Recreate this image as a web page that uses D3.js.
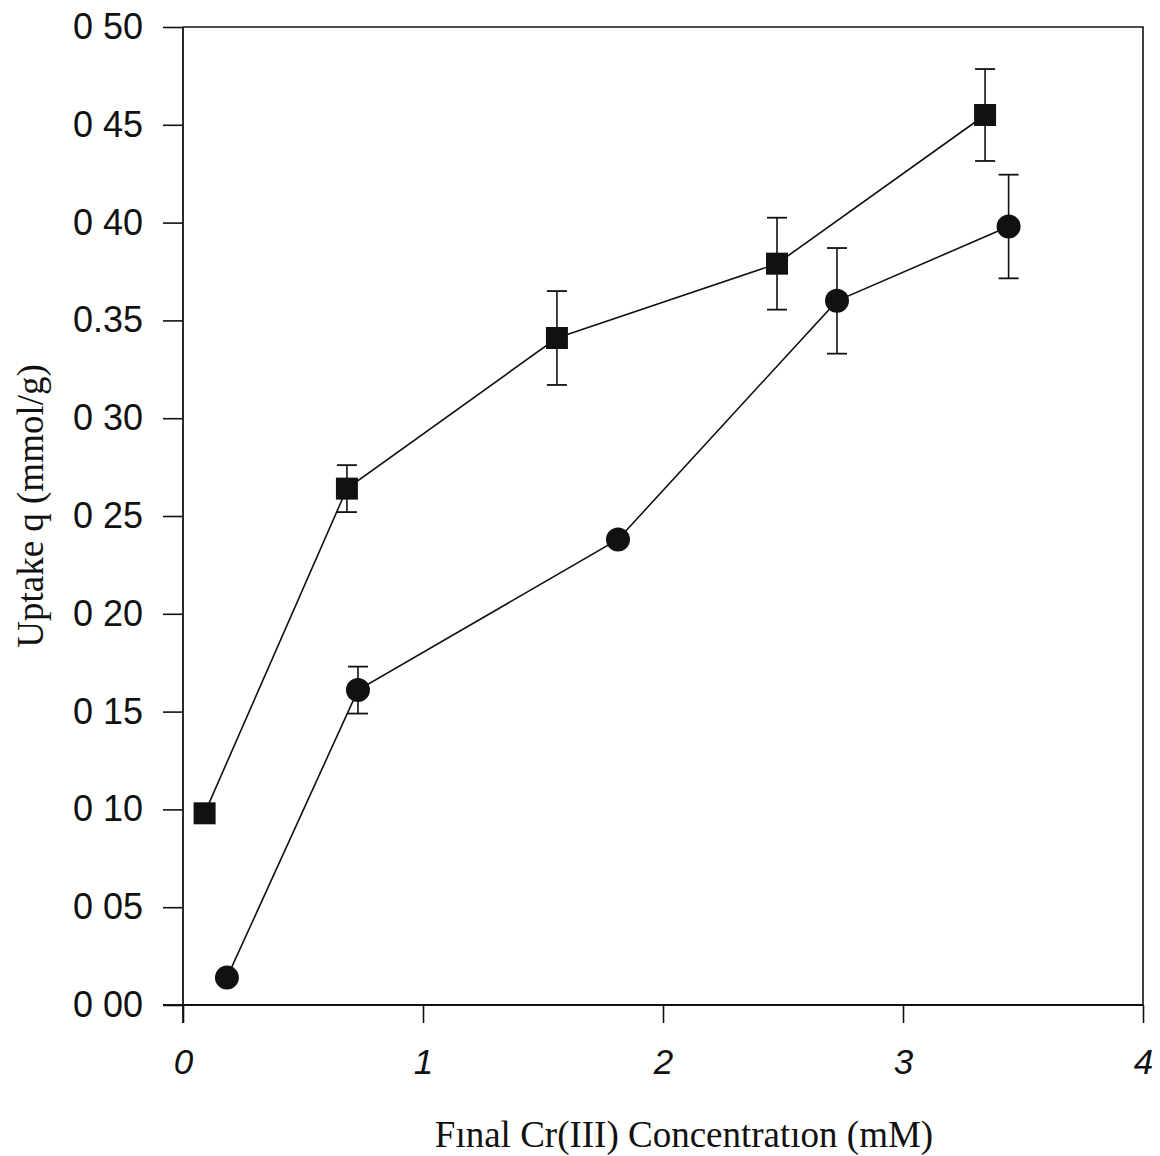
<!DOCTYPE html>
<html>
<head>
<meta charset="utf-8">
<script src="https://cdn.jsdelivr.net/npm/d3@7"></script>
<style>
  html, body { margin: 0; padding: 0; background: #fff; }
  svg { display: block; }
</style>
</head>
<body>
<svg id="chart" width="1160" height="1156"></svg>
<script>
// Cr(III) uptake versus final concentration, two sorbent series
const squareX   = [0.09, 0.683, 1.558, 2.475, 3.342];
const squareY   = [0.098, 0.264, 0.341, 0.379, 0.455];
const squareErr = [0, 0.012, 0.024, 0.0235, 0.0235];

const circleX   = [0.183, 0.729, 1.8125, 2.725, 3.44];
const circleY   = [0.014, 0.161, 0.238, 0.360, 0.398];
const circleErr = [0, 0.012, 0, 0.027, 0.0265];

const yTickValues = [0, 0.05, 0.10, 0.15, 0.20, 0.25, 0.30, 0.35, 0.40, 0.45, 0.50];
const yTickLabels = ["0 00", "0 05", "0 10", "0 15", "0 20", "0 25", "0 30", "0.35", "0 40", "0 45", "0 50"];
const xTickValues = [0, 1, 2, 3, 4];
const xTickLabels = ["0", "1", "2", "3", "4"];

const xTitle = "F\u0131nal Cr(III) Concentrat\u0131on (mM)";
const yTitle = "Uptake q (mmol/g)";

const svg = d3.select("#chart");
const plotLeft = 183, plotRight = 1143, plotTop = 27, plotBottom = 1005;

const x = d3.scaleLinear().domain([0, 4]).range([plotLeft, plotRight]);
const y = d3.scaleLinear().domain([0, 0.5]).range([plotBottom, plotTop]);

const ink = "#111";

// frame: top and right borders
svg.append("path")
  .attr("d", `M${plotLeft},${plotTop}H${plotRight}V${plotBottom}`)
  .attr("fill", "none").attr("stroke", ink).attr("stroke-width", 1.6);

// y axis
const yAxis = d3.axisLeft(y)
  .tickValues(yTickValues)
  .tickFormat((d, i) => yTickLabels[i])
  .tickSize(20).tickPadding(20);
const gy = svg.append("g").attr("transform", `translate(${plotLeft},0)`).call(yAxis);
gy.select(".domain").attr("d", `M0,${plotTop}V${plotBottom + 18}`).attr("stroke", ink).attr("stroke-width", 1.8);
gy.selectAll(".tick line").attr("stroke", ink).attr("stroke-width", 1.6);
gy.selectAll(".tick text")
  .attr("font-family", "Liberation Sans, Arial, sans-serif")
  .attr("font-size", 36).attr("fill", ink);

// x axis
const xAxis = d3.axisBottom(x)
  .tickValues(xTickValues)
  .tickFormat((d, i) => xTickLabels[i])
  .tickSize(18).tickPadding(26);
const gx = svg.append("g").attr("transform", `translate(0,${plotBottom})`).call(xAxis);
gx.select(".domain").attr("d", `M${plotLeft - 20},0H${plotRight}`).attr("stroke", ink).attr("stroke-width", 1.8);
gx.selectAll(".tick line").attr("stroke", ink).attr("stroke-width", 1.6);
gx.selectAll(".tick text")
  .attr("font-family", "Liberation Sans, Arial, sans-serif")
  .attr("font-style", "italic")
  .attr("font-size", 35).attr("fill", ink);

// axis titles
svg.append("text")
  .attr("x", 684).attr("y", 1147)
  .attr("text-anchor", "middle")
  .attr("font-family", "Liberation Serif, Times New Roman, serif")
  .attr("font-size", 37).attr("fill", ink)
  .text(xTitle);

svg.append("text")
  .attr("transform", "translate(43,506) rotate(-90)")
  .attr("text-anchor", "middle")
  .attr("font-family", "Liberation Serif, Times New Roman, serif")
  .attr("font-size", 37).attr("fill", ink)
  .text(yTitle);

function drawSeries(xs, ys, errs, shape) {
  const pts = xs.map((v, i) => ({ x: v, y: ys[i], e: errs[i] }));
  const g = svg.append("g");

  g.append("path")
    .datum(pts)
    .attr("d", d3.line().x(d => x(d.x)).y(d => y(d.y)))
    .attr("fill", "none").attr("stroke", ink).attr("stroke-width", 1.6);

  const eb = g.selectAll(".err").data(pts.filter(d => d.e > 0)).join("g");
  eb.append("line")
    .attr("x1", d => x(d.x)).attr("x2", d => x(d.x))
    .attr("y1", d => y(d.y + d.e)).attr("y2", d => y(d.y - d.e))
    .attr("stroke", ink).attr("stroke-width", 1.6);
  [1, -1].forEach(s => {
    eb.append("line")
      .attr("x1", d => x(d.x) - 10).attr("x2", d => x(d.x) + 10)
      .attr("y1", d => y(d.y + s * d.e)).attr("y2", d => y(d.y + s * d.e))
      .attr("stroke", ink).attr("stroke-width", 1.8);
  });

  const sym = d3.symbol()
    .type(shape === "square" ? d3.symbolSquare : d3.symbolCircle)
    .size(shape === "square" ? 22 * 22 : Math.PI * 12 * 12);
  g.selectAll(".mk").data(pts).join("path")
    .attr("transform", d => `translate(${x(d.x)},${y(d.y)})`)
    .attr("d", sym)
    .attr("fill", ink);
}

drawSeries(squareX, squareY, squareErr, "square");
drawSeries(circleX, circleY, circleErr, "circle");
</script>
</body>
</html>
